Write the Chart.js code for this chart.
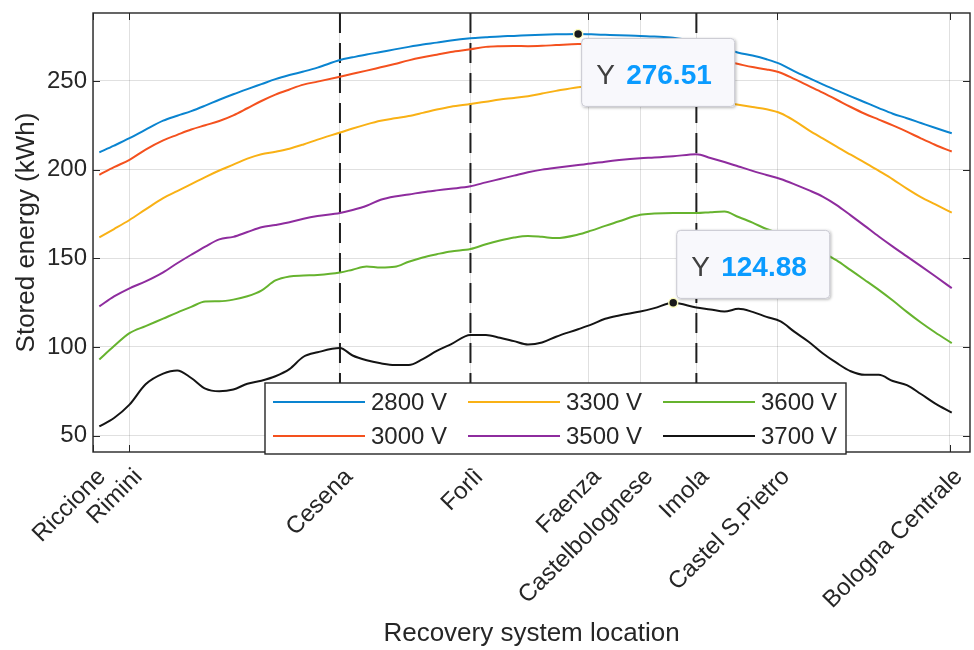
<!DOCTYPE html>
<html>
<head>
<meta charset="utf-8">
<script src="https://cdn.jsdelivr.net/npm/chart.js@4.4.1/dist/chart.umd.min.js"></script>
<style>
  html, body { margin: 0; padding: 0; background: #ffffff; }
  #wrap { width: 974px; height: 650px; position: relative; }
</style>
</head>
<body>
<div id="wrap"><canvas id="c"></canvas></div>
<script>
// Stations along the line (km from Riccione)
const stations = ['Riccione', 'Rimini', 'Cesena', 'Forlì', 'Faenza', 'Castelbolognese', 'Imola', 'Castel S.Pietro', 'Bologna Centrale'];
const stationKm = [0, 5.2, 35.2, 53.8, 70.6, 78.0, 86.0, 97.5, 122.1];
const dashedStations = ['Cesena', 'Forlì', 'Imola'];

// Recovery system positions (km)
const sampleKm = [0.9, 3, 5.2, 7.5, 10, 12, 14, 16, 18, 20, 22, 24, 26, 28, 30, 32, 35.2, 37, 39, 41,
  43, 45, 47, 49, 51, 53.8, 56, 58, 60, 62, 64, 66, 69.15, 71, 73, 75, 78, 80, 82.7, 86,
  88, 90, 92, 94, 96, 98, 100, 102, 104, 106, 108, 110, 112, 114, 116, 118, 120, 122.4];

const seriesNames = ['2800 V', '3000 V', '3300 V', '3500 V', '3600 V', '3700 V'];

// Stored energy (kWh) per supply voltage
const e2800 = [209.7, 213.5, 217.7, 222.6, 227.6, 230.4, 233.0, 236.1, 239.4, 242.5, 245.4, 248.2, 251.0, 253.3, 255.3, 257.5, 261.8, 263.3, 264.9, 266.3,
  267.8, 269.2, 270.5, 271.6, 272.8, 274.0, 274.6, 275.1, 275.4, 275.8, 276.1, 276.3, 276.51, 276.3, 276.0, 275.7, 275.4, 275.0, 274.3, 272.2,
  270.4, 268.3, 265.9, 264.3, 262.2, 259.5, 255.4, 251.7, 248.1, 244.7, 241.3, 238.0, 234.7, 231.5, 229.0, 226.3, 223.6, 220.5];
const e3000 = [197.1, 201.4, 205.5, 211.3, 216.5, 219.6, 222.6, 225.0, 227.4, 230.6, 234.6, 238.7, 242.3, 245.2, 247.9, 249.6, 252.4, 254.0, 255.8, 257.7,
  259.6, 261.6, 263.3, 264.8, 266.3, 267.8, 269.2, 269.6, 269.7, 269.6, 269.8, 270.2, 270.8, 270.8, 270.5, 270.0, 268.8, 267.8, 266.3, 264.3,
  262.8, 261.2, 259.5, 257.8, 256.5, 254.6, 251.0, 247.2, 243.4, 239.4, 235.3, 231.5, 228.2, 224.9, 221.4, 217.6, 214.0, 210.2];
const e3300 = [161.8, 166.5, 171.6, 177.6, 183.9, 187.9, 191.8, 195.8, 199.5, 202.8, 206.2, 208.7, 210.1, 211.8, 214.2, 216.9, 220.9, 223.2, 225.5, 227.5,
  228.9, 230.2, 232.0, 233.9, 235.5, 237.0, 238.3, 239.5, 240.4, 241.4, 242.9, 244.4, 246.5, 247.2, 247.4, 247.0, 245.5, 244.3, 242.8, 241.0,
  239.6, 238.0, 236.6, 235.3, 234.0, 231.8, 227.5, 222.3, 217.6, 213.0, 208.4, 204.0, 199.3, 194.5, 189.3, 184.5, 180.5, 175.8];
const e3500 = [122.9, 128.5, 133.1, 137.0, 142.1, 147.2, 152.0, 156.6, 160.7, 162.1, 164.8, 167.5, 168.8, 170.3, 172.3, 173.8, 175.5, 177.2, 179.6, 183.0,
  184.9, 186.0, 187.3, 188.3, 189.2, 190.6, 192.8, 194.7, 196.6, 198.5, 200.0, 201.1, 202.6, 203.4, 204.5, 205.4, 206.4, 206.8, 207.5, 208.7,
  206.6, 204.3, 201.8, 199.3, 197.0, 194.7, 191.7, 188.4, 184.8, 180.0, 174.2, 168.3, 162.3, 156.6, 151.1, 145.6, 140.0, 133.2];
const e3600 = [92.9, 100.5, 107.8, 111.8, 116.0, 119.4, 122.6, 125.7, 125.8, 126.7, 128.6, 131.8, 137.5, 139.8, 140.3, 140.6, 142.0, 143.6, 145.4, 144.8,
  145.2, 148.1, 150.5, 152.3, 153.9, 155.2, 157.9, 160.0, 161.7, 162.6, 162.1, 161.4, 163.4, 165.6, 168.3, 170.9, 174.5, 175.2, 175.5, 175.5,
  176.0, 176.4, 173.3, 170.1, 166.5, 163.8, 161.0, 157.4, 153.3, 148.8, 143.3, 137.8, 132.2, 126.2, 119.8, 113.8, 108.3, 102.2];
const e3700 = [55.2, 60.0, 67.5, 79.0, 85.0, 86.8, 82.5, 76.5, 75.0, 76.0, 79.3, 81.0, 83.5, 87.5, 94.5, 97.0, 99.4, 95.2, 92.5, 90.8,
  89.8, 89.8, 93.2, 97.8, 101.5, 106.8, 106.8, 105.2, 103.3, 101.4, 102.5, 105.8, 110.0, 112.6, 115.9, 117.8, 120.0, 121.9, 124.88, 122.3,
  121.2, 120.0, 121.5, 119.8, 117.0, 114.4, 108.5, 103.0, 96.5, 91.0, 86.3, 84.3, 84.3, 80.8, 78.5, 73.5, 68.2, 63.0];

const yTicks = [50, 100, 150, 200, 250];
const xRange = [0, 125];
const yRange = [40.8, 288.3];

// Data tips: the peak of each listed series
const datatipSeries = [0, 5];

const seriesColors = ['#0a84d0', '#f4511e', '#f9b115', '#8e2c9e', '#66b32e', '#141414'];
const AXIS_COLOR = '#262626';
const FONT = '"Liberation Sans", Arial, Helvetica, sans-serif';

Chart.defaults.font.family = FONT;
Chart.defaults.color = AXIS_COLOR;

const seriesData = [e2800, e3000, e3300, e3500, e3600, e3700];
const datasets = seriesData.map((vals, k) => ({
  label: seriesNames[k],
  data: vals.map((v, i) => ({ x: sampleKm[i], y: v })),
  borderColor: seriesColors[k],
  backgroundColor: seriesColors[k],
  borderWidth: 2,
  pointRadius: 0,
  cubicInterpolationMode: 'monotone',
  fill: false,
  order: 1
}));
dashedStations.forEach(name => {
  const km = stationKm[stations.indexOf(name)];
  datasets.push({
    label: name,
    data: [{ x: km, y: yRange[1] }, { x: km, y: yRange[0] }],
    borderColor: '#1e1e1e',
    borderWidth: 2,
    borderDash: [20, 10],
    pointRadius: 0,
    tension: 0,
    fill: false,
    order: 5
  });
});

// Box around the axes, inward tick marks, legend and data tips
const decorations = {
  id: 'decorations',
  afterDatasetsDraw(chart) {
    const { ctx, chartArea: a, scales } = chart;
    const xs = scales.x, ys = scales.y;
    ctx.save();

    // inward ticks
    ctx.strokeStyle = AXIS_COLOR;
    ctx.lineWidth = 1;
    const tl = 7;
    ctx.beginPath();
    yTicks.forEach(v => {
      const py = Math.round(ys.getPixelForValue(v)) + 0.5;
      ctx.moveTo(a.left, py); ctx.lineTo(a.left + tl, py);
      ctx.moveTo(a.right, py); ctx.lineTo(a.right - tl, py);
    });
    stationKm.forEach(v => {
      const px = Math.round(xs.getPixelForValue(v)) + 0.5;
      ctx.moveTo(px, a.bottom); ctx.lineTo(px, a.bottom - tl);
      ctx.moveTo(px, a.top); ctx.lineTo(px, a.top + tl);
    });
    ctx.stroke();

    // axes box
    ctx.lineWidth = 1.4;
    ctx.strokeRect(a.left, a.top, a.right - a.left, a.bottom - a.top);

    // legend (3 columns, 2 rows, column-major)
    const lg = { x: 265, y: 383, w: 581, h: 71 };
    ctx.fillStyle = '#ffffff';
    ctx.fillRect(lg.x, lg.y, lg.w, lg.h);
    ctx.lineWidth = 1.4;
    ctx.strokeStyle = AXIS_COLOR;
    ctx.strokeRect(lg.x, lg.y, lg.w, lg.h);
    const colX = [273, 468, 663];
    const rowY = [402, 436];
    ctx.font = '24px ' + FONT;
    ctx.textBaseline = 'middle';
    ctx.textAlign = 'left';
    seriesNames.forEach((name, k) => {
      const cx = colX[Math.floor(k / 2)];
      const cy = rowY[k % 2];
      ctx.strokeStyle = chart.data.datasets[k].borderColor;
      ctx.lineWidth = 2;
      ctx.beginPath();
      ctx.moveTo(cx, cy); ctx.lineTo(cx + 92, cy);
      ctx.stroke();
      ctx.fillStyle = AXIS_COLOR;
      ctx.fillText(name, cx + 98, cy + 1);
    });

    // data tips
    datatipSeries.forEach((s, n) => {
      const vals = seriesData[s];
      let idx = 0;
      vals.forEach((v, i) => { if (v > vals[idx]) idx = i; });
      const px = xs.getPixelForValue(sampleKm[idx]);
      const py = ys.getPixelForValue(vals[idx]);
      const bw = 154, bh = 69;
      const bx = px + 3;
      const by = n === 0 ? py + 4 : py - 4 - bh;
      ctx.save();
      ctx.shadowColor = 'rgba(0,0,0,0.28)';
      ctx.shadowBlur = 3;
      ctx.shadowOffsetX = 1;
      ctx.shadowOffsetY = 1;
      ctx.fillStyle = '#f8f8fc';
      ctx.beginPath();
      ctx.roundRect(bx, by, bw, bh, 4);
      ctx.fill();
      ctx.restore();
      ctx.strokeStyle = '#c8c8d0';
      ctx.lineWidth = 1;
      ctx.beginPath();
      ctx.roundRect(bx + 0.5, by + 0.5, bw - 1, bh - 1, 4);
      ctx.stroke();
      ctx.textBaseline = 'alphabetic';
      ctx.textAlign = 'left';
      ctx.font = '28px ' + FONT;
      ctx.fillStyle = '#404040';
      ctx.fillText('Y', bx + 15, by + 46);
      ctx.font = 'bold 28px ' + FONT;
      ctx.fillStyle = '#0a9bff';
      ctx.fillText(vals[idx].toFixed(2), bx + 45, by + 46);
      // marker
      ctx.beginPath();
      ctx.arc(px, py, 4.5, 0, Math.PI * 2);
      ctx.fillStyle = '#1a1a1a';
      ctx.fill();
      ctx.lineWidth = 1.5;
      ctx.strokeStyle = 'rgba(255,255,190,0.95)';
      ctx.stroke();
    });
    ctx.restore();
  }
};

new Chart(document.getElementById('c'), {
  type: 'line',
  data: { datasets },
  options: {
    responsive: true,
    maintainAspectRatio: false,
    animation: false,
    devicePixelRatio: 1,
    layout: { padding: { top: 13, right: 4, left: 0, bottom: 0 } },
    plugins: { legend: { display: false }, tooltip: { enabled: false } },
    events: [],
    scales: {
      x: {
        type: 'linear',
        min: xRange[0],
        max: xRange[1],
        afterBuildTicks(scale) { scale.ticks = stationKm.map(v => ({ value: v })); },
        afterFit(scale) {
          scale.height = 198;
          scale.paddingLeft = 0; scale.paddingRight = 0;
          scale.paddingTop = 0; scale.paddingBottom = 0;
        },
        ticks: {
          autoSkip: false,
          minRotation: 45,
          maxRotation: 45,
          padding: 11,
          labelOffset: 9,
          font: { size: 24 },
          color: AXIS_COLOR,
          callback: (value, index) => stations[index]
        },
        grid: { color: 'rgba(38,38,38,0.14)', lineWidth: 1, drawTicks: false },
        border: { display: false },
        title: {
          display: true,
          text: 'Recovery system location',
          font: { size: 26 },
          color: AXIS_COLOR,
          padding: { top: 0, bottom: 1 }
        }
      },
      y: {
        type: 'linear',
        min: yRange[0],
        max: yRange[1],
        afterBuildTicks(scale) { scale.ticks = yTicks.map(v => ({ value: v })); },
        afterFit(scale) {
          scale.width = 93;
          scale.paddingLeft = 0; scale.paddingRight = 0;
          scale.paddingTop = 0; scale.paddingBottom = 0;
        },
        ticks: { padding: 6, font: { size: 24 }, color: AXIS_COLOR },
        grid: { color: 'rgba(38,38,38,0.14)', lineWidth: 1, drawTicks: false },
        border: { display: false },
        title: {
          display: true,
          text: 'Stored energy (kWh)',
          font: { size: 26 },
          color: AXIS_COLOR,
          padding: { top: 11, bottom: 0 }
        }
      }
    }
  },
  plugins: [decorations]
});
</script>
</body>
</html>
